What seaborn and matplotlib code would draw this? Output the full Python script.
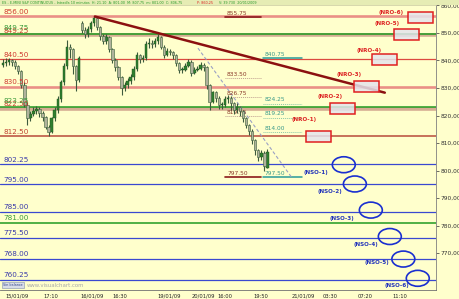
import matplotlib
matplotlib.use("Agg")
import matplotlib.pyplot as plt
import seaborn as sns
import numpy as np
from matplotlib.patches import Rectangle, Ellipse

# ---------------- data (20-minute candles) ----------------
closes = [
    839.0, 839.5, 840.0, 839.5, 838.0, 836.0, 831.0, 824.0, 819.0, 820.5,
    821.5, 822.5, 821.0, 819.5, 816.0, 814.0, 819.0, 822.0, 826.0, 832.0,
    838.0, 845.0, 844.0, 838.0, 833.0, 841.0, 851.0, 849.5, 851.5, 853.5,
    855.5, 852.0, 849.0, 847.0, 848.5, 844.0, 840.0, 837.5, 834.0, 830.0,
    831.0, 832.5, 834.0, 837.0, 842.0, 840.5, 841.0, 846.0, 846.5, 846.0,
    847.0, 848.5, 845.0, 842.0, 843.5, 843.0, 842.0, 839.0, 836.5, 836.5,
    838.0, 839.5, 835.5, 836.5, 837.0, 838.5, 837.5, 831.0, 825.0, 828.5,
    826.5, 824.0, 824.0, 826.0, 826.5, 824.5, 822.0, 823.0, 821.5, 819.0,
    816.5, 814.5, 811.0, 807.5, 805.0, 806.5, 801.5, 806.75]
highs = [
    840.5, 841.0, 841.0, 840.5, 840.0, 838.5, 836.5, 832.0, 825.0, 821.5,
    823.0, 823.5, 823.0, 821.5, 820.0, 816.5, 819.5, 823.0, 827.0, 833.0,
    839.0, 847.5, 846.0, 844.5, 838.5, 841.5, 854.5, 852.0, 852.5, 854.5,
    856.0, 856.0, 852.5, 849.5, 849.5, 849.0, 844.5, 841.0, 838.0, 834.5,
    832.0, 833.5, 835.0, 838.0, 843.0, 842.5, 842.0, 847.0, 848.0, 847.5,
    848.0, 849.5, 849.0, 845.5, 844.5, 844.0, 843.5, 842.5, 839.5, 837.5,
    839.0, 840.5, 840.0, 837.5, 838.0, 839.5, 839.0, 838.0, 831.5, 829.0,
    829.0, 827.0, 825.0, 827.0, 827.5, 827.0, 825.0, 824.5, 823.5, 822.0,
    819.5, 817.0, 815.0, 811.5, 808.0, 807.5, 807.0, 807.75]
lows = [
    837.5, 838.0, 838.5, 838.0, 837.0, 835.0, 830.0, 823.0, 816.5, 818.0,
    820.0, 820.5, 819.5, 818.0, 815.0, 812.5, 813.5, 818.0, 821.0, 825.0,
    831.0, 837.0, 841.0, 835.0, 829.0, 832.0, 850.0, 848.0, 848.5, 850.5,
    852.5, 851.0, 847.5, 846.0, 846.0, 843.0, 839.0, 836.0, 833.0, 827.5,
    829.0, 830.0, 831.5, 833.0, 836.0, 839.0, 839.5, 840.0, 844.5, 844.5,
    845.0, 846.0, 844.0, 841.0, 841.5, 842.0, 840.5, 838.0, 835.5, 835.5,
    836.0, 837.5, 834.5, 835.0, 836.0, 836.5, 836.0, 829.5, 822.0, 824.5,
    825.0, 822.5, 822.5, 823.0, 824.5, 822.0, 820.5, 821.0, 820.0, 817.5,
    815.5, 813.0, 809.5, 805.5, 803.5, 804.0, 800.0, 801.0]
first_open = 838.5
gap_opens = {26: 853.5, 87: 801.0}

time_tick_bars = [1.3, 26.3, 50.7, 71.7, 101.3, 124.3, 141.4, 164.5, 190.1, 210.5, 233.5, 256.6]
time_tick_labels = ['15/01/09', '17:10', '16/01/09', '16:30', '19/01/09', '20/01/09',
                    '16:00', '19:50', '21/01/09', '03:30', '07:20', '11:10']
price_ticks = [770, 780, 790, 800, 810, 820, 830, 840, 850, 860]

level_values = [856.00, 849.25, 849.75, 840.50, 830.50, 822.50, 823.25, 812.50,
                802.25, 795.00, 785.00, 781.00, 775.50, 768.00, 760.25]
level_kinds = ['rband', 'tband', 'green', 'red', 'rband', 'tband', 'green', 'dred',
               'blue', 'blue', 'blue', 'green', 'blue', 'blue', 'blue']

fib_left_values = [855.75, 833.50, 826.75, 819.75, 797.50]
fib_left_solid = [True, False, False, False, True]
fib_right_values = [840.75, 824.25, 819.25, 814.00, 797.50]
fib_right_solid = [True, False, False, False, True]

trend_x = [60.5, 251.3]
trend_y = [856.0, 828.3]
channel_x = [128.3, 190.0]
channel_y = [844.5, 797.5]

nro_names = ['(NRO-1)', '(NRO-2)', '(NRO-3)', '(NRO-4)', '(NRO-5)', '(NRO-6)']
nro_levels = [812.5, 822.7, 830.6, 840.3, 849.5, 855.8]
nso_names = ['(NSO-1)', '(NSO-2)', '(NSO-3)', '(NSO-4)', '(NSO-5)', '(NSO-6)']
nso_levels = [802.1, 795.1, 785.6, 776.0, 767.8, 760.8]

header_main = 'ES - E-MINI S&P CONTINUOUS - Intradía 10 minutos  H: 21.10  A: 801,00  M: 807,75  m: 801,00  C: 806,75'
header_red = 'P: 860,25'
header_tail = 'V: 39.730  20/01/2009'

# ---------------- layout ----------------
nro_box_left = [199.3, 215.1, 230.9, 242.8, 257.2, 266.4]
nro_text_right = [206.6, 223.7, 236.2, 249.3, 261.2, 263.8]
nro_text_y = [818.7, 826.9, 834.9, 843.6, 853.3, 857.6]
nso_center_x = [224.3, 231.6, 242.1, 254.6, 263.5, 273.0]
nso_text_right = [213.8, 223.0, 230.9, 246.7, 253.9, 267.1]
nso_text_y = [799.3, 792.2, 782.7, 773.1, 766.7, 758.2]

BG = '#ffffcc'
sns.set_style('white')
plt.rcParams['font.family'] = ['DejaVu Sans']

fig = plt.figure(figsize=(4.6, 2.99), dpi=100, facecolor=BG)
ax = fig.add_axes([0, 9 / 299, 436 / 460, 285 / 299])
ax.set_facecolor(BG)
ax.set_xlim(-2, 285)
ax.set_ylim(756.55, 860.18)

styles = {
    'rband': dict(color='#ea8f86', lw=1.9, tc='#d03a30'),
    'tband': dict(color='#d6ac92', lw=2.6, tc='#c84030'),
    'green': dict(color='#1f9a1f', lw=1.1, tc='#3a9a3a'),
    'red':   dict(color='#dc4a40', lw=0.9, tc='#d03a30'),
    'dred':  dict(color='#b84a3a', lw=1.1, tc='#c04030'),
    'blue':  dict(color='#3a48d0', lw=0.9, tc='#3a3aaa'),
}
label_offsets = {823.25: 1.0, 849.75: 0.9}
for v, k in zip(level_values, level_kinds):
    st = styles[k]
    ax.axhline(v, color=st['color'], lw=st['lw'], zorder=1)
    ax.text(0.0, v + label_offsets.get(v, 0.55), f'{v:.2f}', color=st['tc'], fontsize=5.2,
            ha='left', va='bottom', zorder=6)

# fib / projection levels
for v, solid in zip(fib_left_values, fib_left_solid):
    if solid:
        ax.plot([146, 170], [v, v], color='#8b1a1a', lw=1.2, zorder=2)
    else:
        ax.plot([146, 170], [v, v], color='#c0a090', lw=0.7, ls=(0, (1, 1)), zorder=2)
    ax.text(147.5, v + 0.5, f'{v:.2f}', color='#8b3a2a', fontsize=4.2,
            ha='left', va='bottom', zorder=2.5)
for v, solid in zip(fib_right_values, fib_right_solid):
    if solid:
        ax.plot([171, 197], [v, v], color='#2a9a9a', lw=1.1, zorder=2)
    else:
        ax.plot([171, 197], [v, v], color='#8cc8a8', lw=0.7, ls=(0, (1, 1)), zorder=2)
    ax.text(172.0, v + 0.5, f'{v:.2f}', color='#3a9a8a', fontsize=4.2,
            ha='left', va='bottom', zorder=2.5)

# dashed channel line and main trend line via seaborn
sns.lineplot(x=channel_x, y=channel_y, ax=ax, color='#9aa0c4', lw=0.8,
             linestyle=(0, (3, 2)), zorder=2)
sns.lineplot(x=trend_x, y=trend_y, ax=ax, color='#8b1010', lw=1.8, zorder=4)

# candles
n = len(closes)
opens = [first_open] + closes[:-1]
for i, v in gap_opens.items():
    opens[i] = v
xs = np.arange(n) * 2.0
o = np.array(opens)
c = np.array(closes)
ax.vlines(xs, lows, highs, color='#3d5a3d', lw=0.8, zorder=3)
up = c >= o
bottoms = np.minimum(o, c)
heights = np.maximum(np.abs(c - o), 0.3)
ax.bar(xs[up], heights[up], bottom=bottoms[up], width=1.6, color='#2f7f2f',
       edgecolor='#1f4f1f', lw=0.3, zorder=3.2)
ax.bar(xs[~up], heights[~up], bottom=bottoms[~up], width=1.6, color='#b0b29c',
       edgecolor='#3a5f3a', lw=0.4, zorder=3.2)

# NRO boxes
for name, lv, bl, tr, ty in zip(nro_names, nro_levels, nro_box_left, nro_text_right, nro_text_y):
    ax.add_patch(Rectangle((bl, lv - 2.0), 16.4, 4.0, facecolor='#e4e4ec', alpha=0.85,
                           edgecolor='none', zorder=5))
    ax.add_patch(Rectangle((bl, lv - 2.0), 16.4, 4.0, facecolor='none',
                           edgecolor='#e02020', lw=1.1, zorder=5.1))
    ax.text(tr, ty, name, color='#dd2222', fontsize=4.1, fontweight='bold',
            ha='right', va='center', zorder=6)

# NSO ellipses
for name, lv, cx, tr, ty in zip(nso_names, nso_levels, nso_center_x, nso_text_right, nso_text_y):
    ax.add_patch(Ellipse((cx, lv), 15.1, 5.8, facecolor='none', edgecolor='#1a2fd0',
                         lw=1.2, zorder=5))
    ax.text(tr, ty, name, color='#2233bb', fontsize=4.1, fontweight='bold',
            ha='right', va='center', zorder=6)

# watermark
ax.text(0.3, 758.3, 'Sin balance', fontsize=2.4, color='#334488', va='center', ha='left',
        bbox=dict(boxstyle='square,pad=0.35', fc='#d8dce8', ec='#8090b0', lw=0.4), zorder=6)
ax.text(15.8, 758.3, 'www.visualchart.com', fontsize=3.9, color='#a8a8a8',
        va='center', ha='left', zorder=6)

# axes styling
ax.spines['left'].set_visible(False)
ax.spines['top'].set_color('#c8c8a0')
ax.spines['top'].set_linewidth(0.5)
ax.spines['bottom'].set_color('#707070')
ax.spines['bottom'].set_linewidth(0.6)
ax.spines['right'].set_color('#808080')
ax.spines['right'].set_linewidth(0.6)

ax.yaxis.tick_right()
ax.set_yticks(price_ticks)
ax.set_yticklabels([f'{t:.2f}'.replace('.', ',') for t in price_ticks])
ax.tick_params(axis='y', direction='out', length=2, width=0.5, labelsize=4.2,
               pad=1, colors='#333333')
ax.set_xticks(time_tick_bars)
ax.set_xticklabels(time_tick_labels, ha='left')
ax.tick_params(axis='x', direction='out', length=2, width=0.5, labelsize=3.7,
               pad=0.6, colors='#222222')
ax.set_xlabel('')
ax.set_ylabel('')
ax.grid(False)

# header band
fig.add_artist(Rectangle((0, 294 / 299), 1, 5 / 299, transform=fig.transFigure,
                         facecolor='#e6ecb4', edgecolor='none'))
hy = 1 - 2.6 / 299
fig.text(2 / 460, hy, header_main, fontsize=2.4, color='#2a9a2a', va='center', ha='left')
fig.text(197 / 460, hy, header_red, fontsize=2.4, color='#dd2222', va='center', ha='left')
fig.text(219 / 460, hy, header_tail, fontsize=2.4, color='#2a9a2a', va='center', ha='left')

fig.savefig('out.png', dpi=100, facecolor=BG)
